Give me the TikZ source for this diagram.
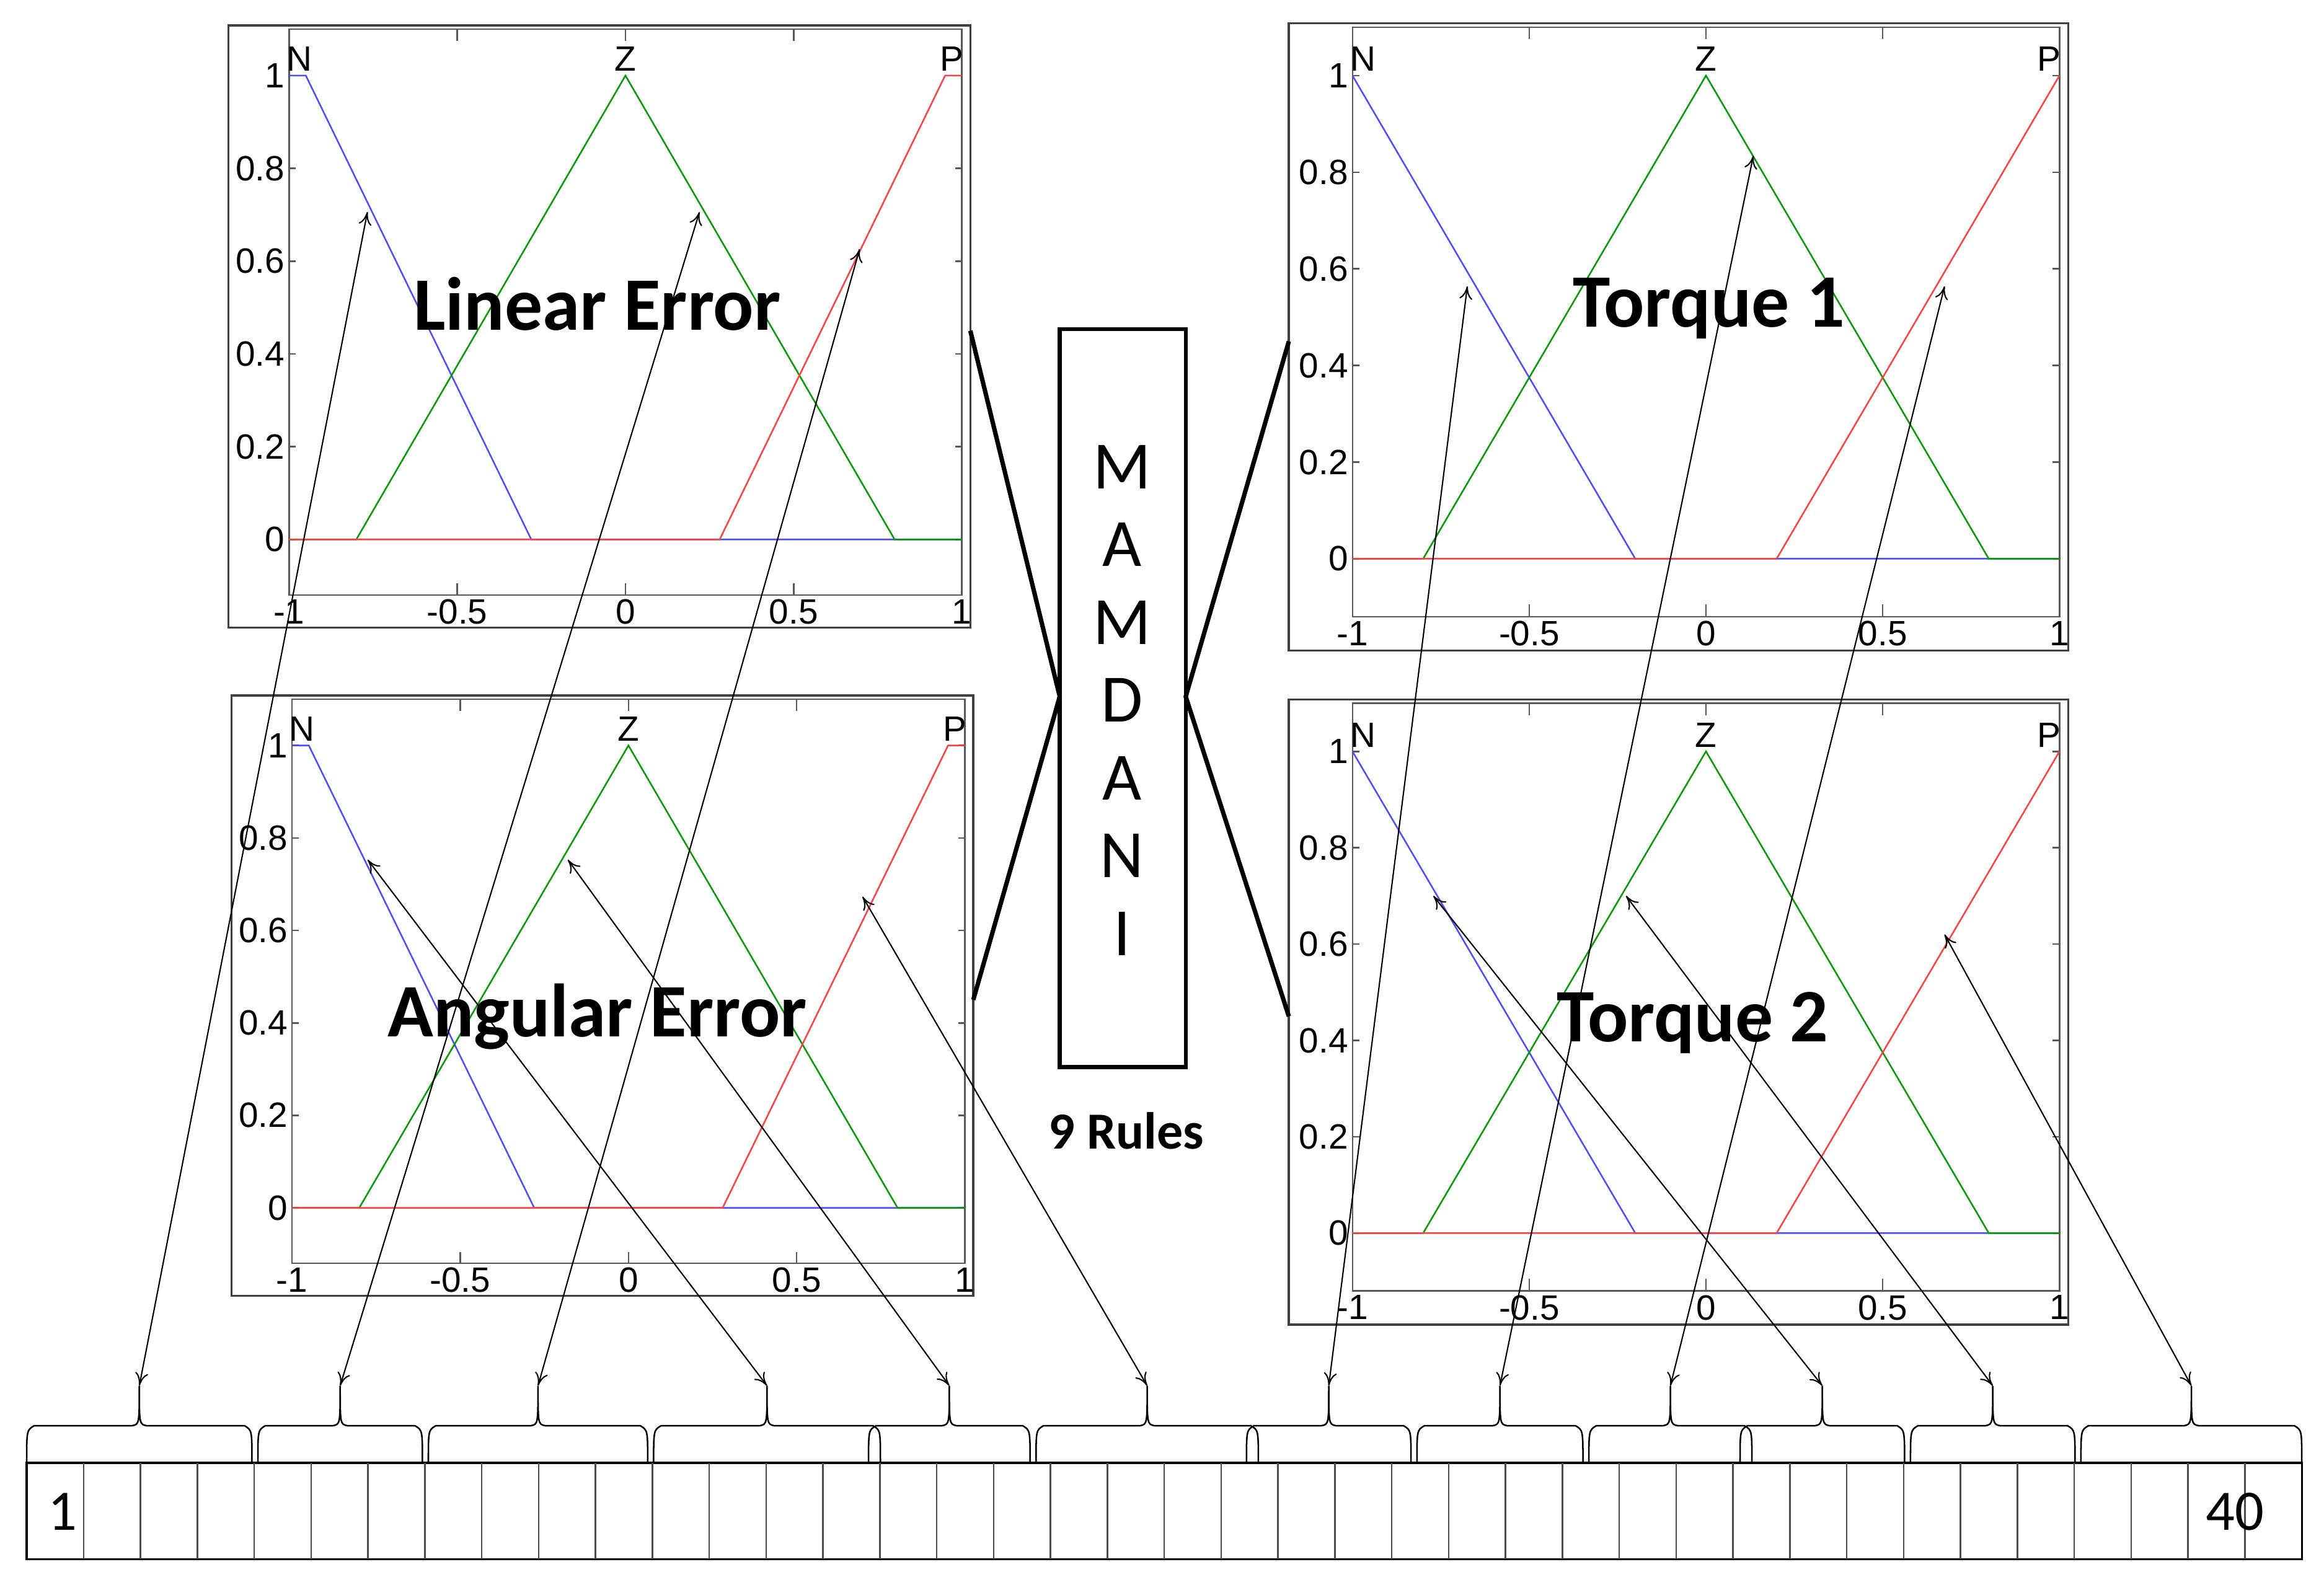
\documentclass[tikz,border=0pt]{standalone}
\usepackage{fontspec}
\setmainfont{Carlito}
\newfontfamily\axfont{Liberation Sans}
\usetikzlibrary{arrows.meta}
\tikzset{
  frm/.style={draw=black!75,line width=0.8pt},
  axs/.style={draw=black!65,line width=0.6pt},
  tick/.style={font=\axfont\fontsize{13.5}{13.5}\selectfont,inner sep=1.5pt},
  mfn/.style={blue!70,line width=0.6pt},
  mfz/.style={green!60!black,line width=0.6pt},
  mfp/.style={red!75,line width=0.6pt},
  title/.style={font=\fontsize{29}{29}\selectfont\bfseries},
  dbl/.style={{To[length=5pt,width=5pt]}-{To[length=5pt,width=5pt]},line width=0.5pt},
  brc/.style={line width=0.6pt},
  link/.style={line width=1.7pt}
}
% #1 nom, #2/#3 origine, #4/#5 echelles, #6 fin du plateau N, #7 zero de N, #8 points
\newcommand\mfplot[8]{%
  \begin{scope}[shift={(#2,#3)},x={(#4*0.02cm,0)},y={(0,#5*0.02cm)}]
    \draw[frm] (-1.18,-0.19) rectangle (1.025,1.108);
    \coordinate (#1-e) at (1.025,0.45);
    \coordinate (#1-w) at (-1.18,0.45);
    \draw[axs] (-1,-0.12) rectangle (1,1.1);
    \foreach \v in {0,0.2,0.4,0.6,0.8,1} {
      \draw[axs] (-1,\v) -- ++(0.02,0) (1,\v) -- ++(-0.02,0);
      \node[tick,anchor=east] at (-1,\v) {\v};
    }
    \foreach \u in {-1,-0.5,0,0.5,1} {
      \draw[axs] (\u,-0.12) -- ++(0,0.025) (\u,1.1) -- ++(0,-0.025);
      \node[tick,anchor=north] at (\u,-0.12) {\u};
    }
    \draw[mfn] (-1,1) -- (#6,1) -- (#7,0) -- (1,0);
    \draw[mfz] (-1,0) -- (-0.8,0) -- (0,1) -- (0.8,0) -- (1,0);
    \draw[mfp] (-1,0) -- ({-(#7)},0) -- ({-(#6)},1) -- (1,1);
    \node[tick,anchor=south] at (-0.97,1.0) {N};
    \node[tick,anchor=south] at (0,1.0) {Z};
    \node[tick,anchor=south] at (0.97,1.0) {P};
    \foreach \n/\a/\b in {#8} \coordinate (#1-\n) at (\a,\b);
  \end{scope}}

\begin{document}
\begin{tikzpicture}[x=0.02cm,y=-0.02cm]
  \useasboundingbox (0,0) rectangle (1568,1066);
  % fonctions d'appartenance
  \mfplot{le}{422}{364}{227}{313}{-0.95}{-0.28}{n/-0.767/0.706,z/0.22/0.706,p/0.696/0.626}
  \mfplot{ae}{424}{815}{227}{312}{-0.95}{-0.28}{n/-0.775/0.753,z/-0.18/0.753,p/0.696/0.673}
  \mfplot{ta}{1151}{377}{238.5}{326}{-1}{-0.2}{n/-0.675/0.564,z/0.134/0.834,p/0.675/0.564}
  \mfplot{tb}{1151}{832}{238.5}{325}{-1}{-0.2}{n/-0.771/0.70,z/-0.226/0.70,p/0.675/0.62}
  \node[title] (le-t) at (403,205) {Linear Error};
  \node[title] (ae-t) at (403,686) {Angular Error};
  \node[title] (ta-t) at (1153,208) {Torque 1};
  \node[title] (tb-t) at (1142,690) {Torque 2};
  % bloc Mamdani
  \draw[line width=1.5pt] (715,222) rectangle (800,720);
  \coordinate (mw) at (715,470);
  \coordinate (me) at (800,470);
  \foreach \l [count=\i from 0] in {M,A,M,D,A,N,I}
    \node[font=\fontsize{26}{26}\selectfont] (m\i) at (757,{315+52.5*\i}) {\l};
  \node[font=\fontsize{20}{20}\selectfont\bfseries] (rules) at (760,763) {9 Rules};
  \draw[link] (le-e) -- (mw) -- (ae-e);
  \draw[link] (ta-w) -- (me) -- (tb-w);
  % chromosome
  \draw[line width=0.8pt] (18,987) rectangle (1553,1052);
  \foreach \i in {1,...,39}
    \draw[black!70,line width=0.6pt] ({18+38.375*\i},987) -- ({18+38.375*\i},1052);
  \node[font=\fontsize{22}{22}\selectfont] (c1) at (42,1020) {1};
  \node[font=\fontsize{22}{22}\selectfont] (c40) at (1508,1020) {40};
  \foreach \a/\b/\t in {18/170/b1,174/285/b2,289/437/b3,441/594/b4,586/695/b5,699/849/b6,
      841/952/b7,956/1068/b8,1072/1182/b9,1174/1285/b10,1289/1400/b11,1404/1553/b12}
    \draw[brc] (\a,987) .. controls (\a,965) .. (\a+5,962) -- ({(\a+\b)/2-5},962)
      .. controls ({(\a+\b)/2},961) .. ({(\a+\b)/2},935) coordinate (\t)
      .. controls ({(\a+\b)/2},961) .. ({(\a+\b)/2+5},962) -- (\b-5,962)
      .. controls (\b,965) .. (\b,987);
  % liaisons
  \foreach \s/\e in {b1/le-n,b2/le-z,b3/le-p,b4/ae-n,b5/ae-z,b6/ae-p,
      b7/ta-n,b8/ta-z,b9/ta-p,b10/tb-n,b11/tb-z,b12/tb-p}
    \draw[dbl] (\s) -- (\e);
\end{tikzpicture}
\end{document}
